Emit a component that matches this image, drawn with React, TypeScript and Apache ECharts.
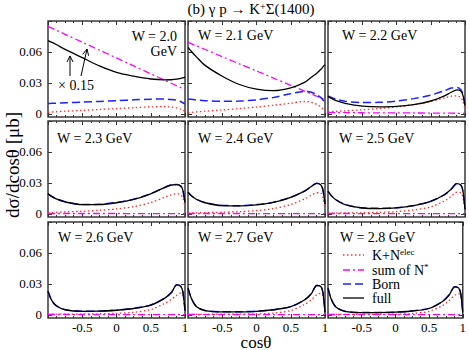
import React, { useEffect, useRef } from 'react';
import * as echarts from 'echarts';

// cos(theta) sample points shared by every curve
const cosTheta = [-1, -0.95, -0.88, -0.75, -0.5, -0.25, 0, 0.25, 0.5, 0.7, 0.8, 0.88, 0.94, 0.97, 1];
const energies = ['2.0', '2.1', '2.2', '2.3', '2.4', '2.5', '2.6', '2.7', '2.8'];

// K + N^elec (red dotted)
const kPlusNelec = [
  [0.0016, 0.0018, 0.0021, 0.0026, 0.0034, 0.0043, 0.0051, 0.0060, 0.0068, 0.0070, 0.0066, 0.0058, 0.0045, 0.0036, 0.0025],
  [0.0012, 0.0015, 0.0019, 0.0026, 0.0038, 0.0052, 0.0066, 0.0084, 0.0104, 0.0120, 0.0112, 0.0092, 0.0068, 0.0048, 0.0025],
  [0.0020, 0.0022, 0.0025, 0.0030, 0.0040, 0.0052, 0.0068, 0.0090, 0.0120, 0.0155, 0.0172, 0.0175, 0.0158, 0.0120, 0.0040],
  [0.0010, 0.0012, 0.0015, 0.0019, 0.0026, 0.0035, 0.0048, 0.0070, 0.0110, 0.0160, 0.0185, 0.0195, 0.0185, 0.0150, 0.0075],
  [0.0008, 0.0009, 0.0010, 0.0012, 0.0016, 0.0022, 0.0032, 0.0052, 0.0090, 0.0145, 0.0180, 0.0205, 0.0200, 0.0160, 0.0060],
  [0.0007, 0.0007, 0.0008, 0.0009, 0.0011, 0.0015, 0.0022, 0.0038, 0.0068, 0.0125, 0.0170, 0.0210, 0.0205, 0.0160, 0.0035],
  [0.0008, 0.0008, 0.0008, 0.0008, 0.0009, 0.0011, 0.0015, 0.0025, 0.0052, 0.0110, 0.0150, 0.0190, 0.0212, 0.0185, 0.0040],
  [0.0006, 0.0006, 0.0006, 0.0006, 0.0007, 0.0008, 0.0010, 0.0018, 0.0042, 0.0100, 0.0145, 0.0195, 0.0210, 0.0180, 0.0035],
  [0.0005, 0.0005, 0.0005, 0.0005, 0.0006, 0.0006, 0.0007, 0.0013, 0.0035, 0.0090, 0.0140, 0.0190, 0.0205, 0.0175, 0.0040],
];

// sum of N* (magenta dash-dot)
const sumOfNstar = [
  [0.0848, 0.0833, 0.0811, 0.0771, 0.0695, 0.0618, 0.0542, 0.0465, 0.0388, 0.0327, 0.0297, 0.0272, 0.0254, 0.0245, 0.0235],
  [0.0693, 0.0679, 0.0660, 0.0624, 0.0554, 0.0485, 0.0416, 0.0346, 0.0277, 0.0221, 0.0194, 0.0171, 0.0155, 0.0146, 0.0138],
  [0.0013, 0.0013, 0.0013, 0.0012, 0.0011, 0.0010, 0.0010, 0.0009, 0.0008, 0.0007, 0.0007, 0.0006, 0.0006, 0.0005, 0.0005],
  [0.0004, 0.0004, 0.0004, 0.0004, 0.0004, 0.0004, 0.0004, 0.0003, 0.0003, 0.0003, 0.0003, 0.0003, 0.0003, 0.0003, 0.0003],
  [0.0004, 0.0004, 0.0004, 0.0004, 0.0004, 0.0004, 0.0003, 0.0003, 0.0003, 0.0003, 0.0003, 0.0003, 0.0003, 0.0003, 0.0003],
  [0.0004, 0.0004, 0.0004, 0.0004, 0.0003, 0.0003, 0.0003, 0.0003, 0.0003, 0.0003, 0.0003, 0.0003, 0.0003, 0.0003, 0.0003],
  [0.0004, 0.0004, 0.0004, 0.0004, 0.0003, 0.0003, 0.0003, 0.0003, 0.0003, 0.0003, 0.0003, 0.0003, 0.0003, 0.0003, 0.0003],
  [0.0004, 0.0004, 0.0004, 0.0003, 0.0003, 0.0003, 0.0003, 0.0003, 0.0003, 0.0003, 0.0003, 0.0003, 0.0003, 0.0003, 0.0003],
  [0.0004, 0.0004, 0.0004, 0.0003, 0.0003, 0.0003, 0.0003, 0.0003, 0.0003, 0.0003, 0.0003, 0.0003, 0.0003, 0.0003, 0.0003],
];

// Born (blue dashed)
const born = [
  [0.0100, 0.0102, 0.0104, 0.0108, 0.0114, 0.0121, 0.0128, 0.0136, 0.0143, 0.0144, 0.0140, 0.0132, 0.0118, 0.0108, 0.0097],
  [0.0145, 0.0141, 0.0135, 0.0128, 0.0122, 0.0124, 0.0136, 0.0160, 0.0195, 0.0218, 0.0210, 0.0185, 0.0158, 0.0135, 0.0106],
  [0.0175, 0.0160, 0.0143, 0.0122, 0.0110, 0.0112, 0.0125, 0.0148, 0.0182, 0.0225, 0.0250, 0.0255, 0.0235, 0.0190, 0.0100],
  [0.0195, 0.0172, 0.0147, 0.0118, 0.0091, 0.0093, 0.0111, 0.0142, 0.0196, 0.0256, 0.0281, 0.0285, 0.0269, 0.0226, 0.0111],
  [0.0211, 0.0176, 0.0143, 0.0110, 0.0082, 0.0080, 0.0090, 0.0114, 0.0161, 0.0221, 0.0266, 0.0296, 0.0281, 0.0231, 0.0098],
  [0.0221, 0.0176, 0.0136, 0.0091, 0.0059, 0.0054, 0.0060, 0.0081, 0.0123, 0.0186, 0.0241, 0.0294, 0.0279, 0.0221, 0.0046],
  [0.0231, 0.0146, 0.0089, 0.0051, 0.0036, 0.0037, 0.0046, 0.0063, 0.0096, 0.0161, 0.0216, 0.0291, 0.0276, 0.0221, 0.0041],
  [0.0261, 0.0161, 0.0083, 0.0043, 0.0030, 0.0031, 0.0036, 0.0051, 0.0081, 0.0146, 0.0206, 0.0286, 0.0276, 0.0216, 0.0026],
  [0.0261, 0.0151, 0.0076, 0.0036, 0.0023, 0.0023, 0.0027, 0.0039, 0.0063, 0.0131, 0.0196, 0.0273, 0.0261, 0.0206, 0.0026],
];

// full (black solid)
const full = [
  [0.0710, 0.0695, 0.0672, 0.0625, 0.0545, 0.0465, 0.0402, 0.0365, 0.0338, 0.0330, 0.0331, 0.0336, 0.0344, 0.0350, 0.0356],
  [0.0645, 0.0605, 0.0555, 0.0470, 0.0365, 0.0285, 0.0240, 0.0225, 0.0252, 0.0305, 0.0355, 0.0395, 0.0432, 0.0455, 0.0477],
  [0.0170, 0.0150, 0.0128, 0.0103, 0.0076, 0.0068, 0.0072, 0.0090, 0.0125, 0.0175, 0.0210, 0.0232, 0.0222, 0.0180, 0.0080],
  [0.0194, 0.0170, 0.0145, 0.0116, 0.0089, 0.0090, 0.0108, 0.0140, 0.0195, 0.0255, 0.0280, 0.0284, 0.0268, 0.0225, 0.0110],
  [0.0210, 0.0175, 0.0142, 0.0108, 0.0080, 0.0078, 0.0088, 0.0112, 0.0160, 0.0220, 0.0265, 0.0295, 0.0280, 0.0230, 0.0097],
  [0.0220, 0.0175, 0.0135, 0.0090, 0.0057, 0.0052, 0.0058, 0.0080, 0.0122, 0.0185, 0.0240, 0.0293, 0.0278, 0.0220, 0.0045],
  [0.0230, 0.0145, 0.0088, 0.0050, 0.0035, 0.0036, 0.0045, 0.0062, 0.0095, 0.0160, 0.0215, 0.0290, 0.0275, 0.0220, 0.0040],
  [0.0260, 0.0160, 0.0082, 0.0042, 0.0029, 0.0030, 0.0035, 0.0050, 0.0080, 0.0145, 0.0205, 0.0285, 0.0275, 0.0215, 0.0025],
  [0.0260, 0.0150, 0.0075, 0.0035, 0.0022, 0.0022, 0.0026, 0.0038, 0.0062, 0.0130, 0.0195, 0.0272, 0.0260, 0.0205, 0.0025],
];

const yTickLabels = [0, 0.03, 0.06];
const yTicks = [0, 0.03, 0.06, 0.09];
const xTickLabels = [-0.5, 0, 0.5, 1];

const FONT = '"Liberation Serif", "DejaVu Serif", serif';
const colLeft = [48, 188, 328];
const rowTop = [21, 121, 222];
const PW = 137;
const PH = 96;
const YMIN = -0.003;
const YMAX = 0.09;

const wLabelPos = [
  null,
  [198, 35],
  [342, 35],
  [57, 138],
  [198, 138],
  [339, 138],
  [58, 237],
  [198, 237],
  [340, 237],
];

export default function App() {
  const ref = useRef<HTMLDivElement>(null);
  useEffect(() => {
    const chart = echarts.init(ref.current!, null, { renderer: 'svg' });
    const grid: any[] = [];
    const xAxis: any[] = [];
    const yAxis: any[] = [];
    const series: any[] = [];
    const graphic: any[] = [];
    const tickStyle = { color: '#333', width: 1 };

    for (let i = 0; i < 9; i++) {
      const r = Math.floor(i / 3);
      const c = i % 3;
      grid.push({
        left: colLeft[c], top: rowTop[r], width: PW, height: PH,
        show: true, borderColor: '#3a3a3a', borderWidth: 1.5, backgroundColor: 'transparent',
      });
      const bottomRow = r === 2;
      const leftCol = c === 0;
      xAxis.push({
        type: 'value', gridIndex: i, min: -1, max: 1, interval: 0.5, position: 'bottom',
        axisLine: { show: false, onZero: false },
        axisTick: { show: true, inside: true, length: 4, lineStyle: tickStyle },
        minorTick: { show: true, splitNumber: 4, length: 2, lineStyle: tickStyle },
        splitLine: { show: false },
        axisLabel: {
          show: bottomRow, customValues: xTickLabels, margin: 3,
          fontFamily: FONT, fontSize: 13, lineHeight: 13, color: '#000',
          formatter: (v: number) => String(v),
        },
      });
      xAxis.push({
        type: 'value', gridIndex: i, min: -1, max: 1, interval: 0.5, position: 'top',
        axisLine: { show: false, onZero: false },
        axisTick: { show: true, inside: true, length: 4, lineStyle: tickStyle },
        minorTick: { show: true, splitNumber: 4, length: 2, lineStyle: tickStyle },
        splitLine: { show: false },
        axisLabel: { show: false },
      });
      yAxis.push({
        type: 'value', gridIndex: i, min: YMIN, max: YMAX, position: 'left',
        axisLine: { show: false, onZero: false },
        axisTick: { show: true, inside: true, length: 4, customValues: yTicks, lineStyle: tickStyle },
        splitLine: { show: false },
        axisLabel: {
          show: leftCol, customValues: yTickLabels, margin: 6,
          fontFamily: FONT, fontSize: 13, color: '#000',
          formatter: (v: number) => (v === 0 ? '0' : v.toFixed(2)),
        },
      });
      yAxis.push({
        type: 'value', gridIndex: i, min: YMIN, max: YMAX, position: 'right',
        axisLine: { show: false, onZero: false },
        axisTick: { show: true, inside: true, length: 4, customValues: yTicks, lineStyle: tickStyle },
        splitLine: { show: false },
        axisLabel: { show: false },
      });

      const mk = (arr: number[], color: string, type: any, width: number, z: number) => ({
        type: 'line', xAxisIndex: 2 * i, yAxisIndex: 2 * i,
        data: cosTheta.map((x, j) => [x, arr[j]]),
        showSymbol: false, symbol: 'none', smooth: 0.3, clip: true, z,
        lineStyle: { color, type, width },
      });
      series.push(mk(kPlusNelec[i], '#ff2a2a', [1.5, 2.5], 1.3, 2));
      series.push(mk(sumOfNstar[i], '#ff00ff', [7, 3, 2, 3], 1.3, 3));
      series.push(mk(born[i], '#1f1fff', [8, 4], 1.5, 4));
      series.push(mk(full[i], '#000000', 'solid', 1.3, 5));

      const pos = wLabelPos[i];
      if (pos) {
        graphic.push({
          type: 'text', x: pos[0], y: pos[1],
          style: { text: `W = ${energies[i]} GeV`, font: `14px ${FONT}`, fill: '#000', verticalAlign: 'middle', align: 'left' },
        });
      }
    }

    // panel 1 label in two lines
    graphic.push({ type: 'text', x: 177, y: 36, style: { text: `W = ${energies[0]}`, font: `14px ${FONT}`, fill: '#000', align: 'right', verticalAlign: 'middle' } });
    graphic.push({ type: 'text', x: 177, y: 51, style: { text: 'GeV', font: `14px ${FONT}`, fill: '#000', align: 'right', verticalAlign: 'middle' } });

    // arrows and scale factor annotation
    const ls = { stroke: '#000', lineWidth: 1, fill: 'none' };
    graphic.push({ type: 'line', shape: { x1: 70, y1: 76, x2: 70, y2: 56 }, style: ls });
    graphic.push({ type: 'polyline', shape: { points: [[67, 62], [70, 56], [73, 62]] }, style: ls });
    graphic.push({ type: 'line', shape: { x1: 81, y1: 76, x2: 87, y2: 49 }, style: ls });
    graphic.push({ type: 'polyline', shape: { points: [[82.7, 54.4], [87, 49], [88.6, 55.7]] }, style: ls });
    graphic.push({ type: 'text', x: 58, y: 85, style: { text: '× 0.15', font: `14px ${FONT}`, fill: '#000', verticalAlign: 'middle' } });

    // title
    graphic.push({
      type: 'text', x: 251, y: 9,
      style: {
        text: '{n|(b) γ p → K}{s|+}{n|Σ(1400)}', align: 'center', verticalAlign: 'middle',
        rich: {
          n: { fontFamily: FONT, fontSize: 15, color: '#000', lineHeight: 16 },
          s: { fontFamily: FONT, fontSize: 10, color: '#000', verticalAlign: 'top', lineHeight: 10 },
        },
      },
    });

    // axis names
    graphic.push({
      type: 'text', x: 12, y: 165, rotation: Math.PI / 2,
      style: { text: 'dσ/dcosθ [μb]', font: `19px ${FONT}`, fill: '#000', align: 'center', verticalAlign: 'middle' },
    });
    graphic.push({
      type: 'text', x: 256, y: 342,
      style: { text: 'cosθ', font: `17px ${FONT}`, fill: '#000', align: 'center', verticalAlign: 'middle' },
    });

    // legend
    const legendRows = [
      { y: 255, color: '#ff2a2a', dash: [1.5, 2.5], w: 1.3, text: '{n|K+N}{s|elec}' },
      { y: 270, color: '#ff00ff', dash: [7, 3, 2, 3], w: 1.3, text: '{n|sum of N}{s|*}' },
      { y: 284, color: '#1f1fff', dash: [8, 4], w: 1.5, text: '{n|Born}' },
      { y: 298, color: '#000000', dash: null, w: 1.3, text: '{n|full}' },
    ];
    legendRows.forEach((row) => {
      graphic.push({
        type: 'line', shape: { x1: 343, y1: row.y, x2: 364, y2: row.y },
        style: { stroke: row.color, lineWidth: row.w, lineDash: row.dash || undefined },
      });
      graphic.push({
        type: 'text', x: 372, y: row.y,
        style: {
          text: row.text, verticalAlign: 'middle', align: 'left',
          rich: {
            n: { fontFamily: FONT, fontSize: 14, color: '#000', lineHeight: 15 },
            s: { fontFamily: FONT, fontSize: 9, color: '#000', verticalAlign: 'top', lineHeight: 9 },
          },
        },
      });
    });

    chart.setOption({ animation: false, grid, xAxis, yAxis, series, graphic });
    return () => chart.dispose();
  }, []);
  return <div ref={ref} style={{ position: 'fixed', left: 0, top: 0, width: 469, height: 350, background: '#fff' }} />;
}
